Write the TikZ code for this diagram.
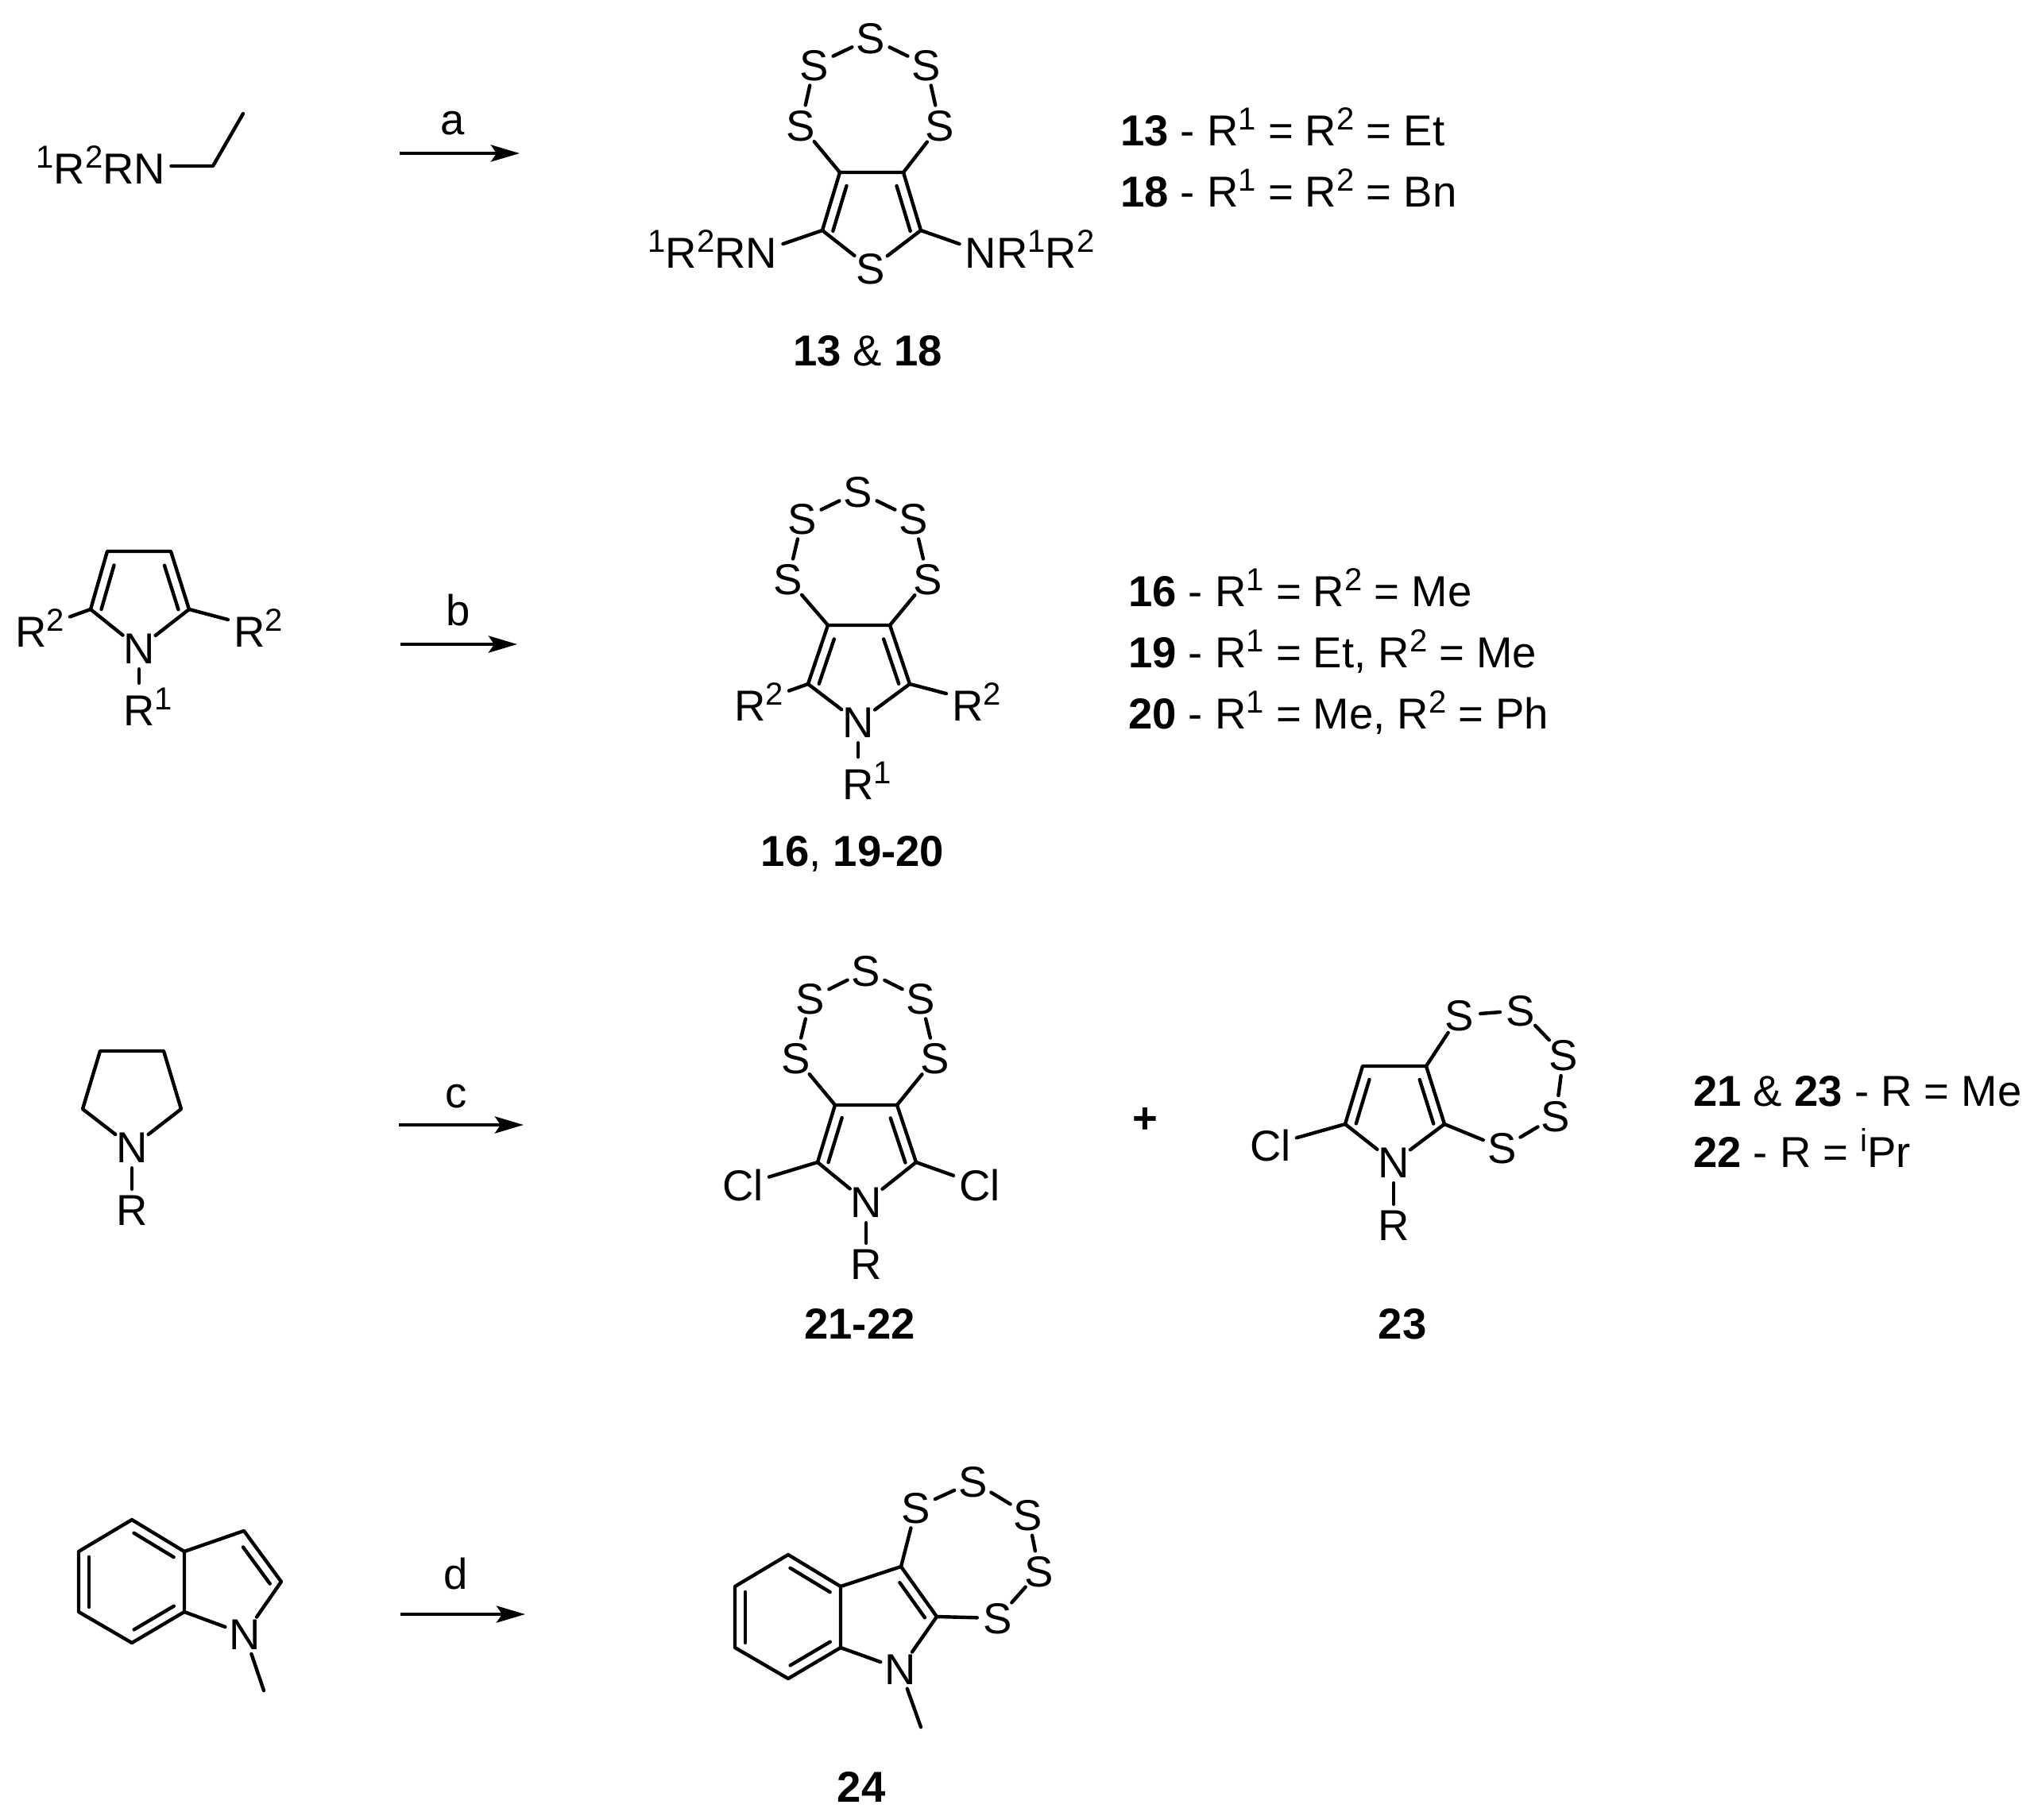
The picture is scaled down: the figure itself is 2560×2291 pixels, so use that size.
\documentclass[tikz,border=0pt]{standalone}
\usepackage{fontspec}
\setmainfont{Liberation Sans}
\usetikzlibrary{calc,arrows.meta}
\newcommand{\sps}[1]{\raisebox{20pt}{\fontsize{40}{40}\selectfont #1}}
\newcommand{\atm}[1]{\makebox[0pt]{\raisebox{-19.5pt}[0pt][0pt]{#1}}}
\newcommand{\Atom}[3]{\node[atom] (#1) at (#2) {\atm{#3}};}
\newcommand{\dbl}[5]{\draw[bond] ($(#1)!#3!(#2)!#5pt!90:(#2)$) -- ($(#2)!#4!(#1)!#5pt!-90:(#1)$);}
\tikzset{
  every node/.style={font=\fontsize{54.5}{60}\selectfont},
  atom/.style={circle,inner sep=0pt,minimum size=52pt},
  atomsup/.style={circle,inner sep=0pt,minimum size=68pt},
  grp/.style={inner xsep=7pt,inner ysep=0pt,anchor=base},
  txt/.style={inner sep=0pt,anchor=base west},
  lab/.style={inner sep=0pt,anchor=base},
  bond/.style={line width=4.4pt,line cap=round,line join=round},
  rxn/.style={line width=4.6pt,-{Stealth[length=36pt,width=21pt,inset=7pt]}}
}
\begin{document}
\begin{tikzpicture}[x=1pt,y=-1pt]
\useasboundingbox (0,0) rectangle (2560,2291);

% ---------- Row 1
\node[grp] (ra) at (127,231) {\sps{1}R\sps{2}RN};
\coordinate (ea1) at (268,209);
\coordinate (ea2) at (306,143);
\draw[bond] (ra.east |- ea1) -- (ea1) -- (ea2);
\coordinate (a1s) at (503,193); \coordinate (a1e) at (654,193);
\draw[rxn] (a1s) -- (a1e);
\node[lab] (la) at (570,169) {a};

\Atom{t1}{1096,48}{S}
\Atom{t2}{1025,82}{S}
\Atom{t3}{1166,82}{S}
\Atom{t4}{1008,158}{S}
\Atom{t5}{1183,158}{S}
\Atom{t6}{1096,338}{S}
\coordinate (tc3) at (1057,217);
\coordinate (tc4) at (1137,217);
\coordinate (tc2) at (1035,290);
\coordinate (tc5) at (1159,290);
\draw[bond] (t2) -- (t1); \draw[bond] (t1) -- (t3);
\draw[bond] (t4) -- (t2); \draw[bond] (t5) -- (t3);
\draw[bond] (t4) -- (tc3); \draw[bond] (t5) -- (tc4);
\draw[bond] (tc2) -- (tc3) -- (tc4) -- (tc5);
\draw[bond] (tc2) -- (t6); \draw[bond] (tc5) -- (t6);
\dbl{tc3}{tc2}{.18}{.04}{13}
\dbl{tc4}{tc5}{.18}{.04}{-13}
\node[grp] (tl) at (897,337) {\sps{1}R\sps{2}RN};
\node[grp] (tr) at (1296,337) {NR\sps{1}R\sps{2}};
\draw[bond] (tc2) -- ([yshift=6pt]tl.east);
\draw[bond] (tc5) -- ([yshift=6pt]tr.west);
\node[lab] (l13) at (1092,460) {\textbf{13} \& \textbf{18}};
\node[txt] (k13) at (1410,183) {\textbf{13} - R\sps{1} = R\sps{2} = Et};
\node[txt] (k18) at (1410,260) {\textbf{18} - R\sps{1} = R\sps{2} = Bn};

% ---------- Row 2
\coordinate (pc3) at (135,694);
\coordinate (pc4) at (215,694);
\coordinate (pc2) at (114,767);
\coordinate (pc5) at (238,767);
\Atom{pn}{175,816}{N}
\node[atomsup] (pr) at (175,894) {\atm{R\rlap{\sps{1}}}};
\node[grp] (prl) at (50,814) {R\sps{2}};
\node[grp] (prr) at (325,814) {R\sps{2}};
\draw[bond] (pn) -- (pc2) -- (pc3) -- (pc4) -- (pc5) -- (pn);
\draw[bond] (pn) -- (pr);
\draw[bond] (pc2) -- (prl);
\draw[bond] (pc5) -- (prr);
\dbl{pc3}{pc2}{.19}{.05}{13}
\dbl{pc4}{pc5}{.19}{.05}{-13}
\coordinate (a2s) at (504,811); \coordinate (a2e) at (651,811);
\draw[rxn] (a2s) -- (a2e);
\node[lab] (lb) at (577,787) {b};

\Atom{q1}{1080,619}{S}
\Atom{q2}{1010,653}{S}
\Atom{q3}{1150,653}{S}
\Atom{q4}{992,729}{S}
\Atom{q5}{1168,729}{S}
\coordinate (qc3) at (1042,787);
\coordinate (qc4) at (1120,787);
\coordinate (qc2) at (1017,861);
\coordinate (qc5) at (1145,861);
\Atom{qn}{1080,909}{N}
\node[atomsup] (qr) at (1080,987) {\atm{R\rlap{\sps{1}}}};
\node[grp] (qrl) at (955,907) {R\sps{2}};
\node[grp] (qrr) at (1229,907) {R\sps{2}};
\draw[bond] (q2) -- (q1); \draw[bond] (q1) -- (q3);
\draw[bond] (q4) -- (q2); \draw[bond] (q5) -- (q3);
\draw[bond] (q4) -- (qc3); \draw[bond] (q5) -- (qc4);
\draw[bond] (qn) -- (qc2) -- (qc3) -- (qc4) -- (qc5) -- (qn);
\draw[bond] (qn) -- (qr);
\draw[bond] (qc2) -- (qrl);
\draw[bond] (qc5) -- (qrr);
\dbl{qc3}{qc2}{.18}{.06}{13}
\dbl{qc4}{qc5}{.18}{.06}{-13}
\node[lab] (l16) at (1073,1090) {\textbf{16}, \textbf{19-20}};
\node[txt] (k16) at (1420,763) {\textbf{16} - R\sps{1} = R\sps{2} = Me};
\node[txt] (k19) at (1420,840) {\textbf{19} - R\sps{1} = Et, R\sps{2} = Me};
\node[txt] (k20) at (1420,917) {\textbf{20} - R\sps{1} = Me, R\sps{2} = Ph};

% ---------- Row 3
\coordinate (rc3) at (126,1323);
\coordinate (rc4) at (206,1323);
\coordinate (rc2) at (104,1396);
\coordinate (rc5) at (228,1396);
\Atom{rn}{166,1444}{N}
\Atom{rr}{166,1523}{R}
\draw[bond] (rn) -- (rc2) -- (rc3) -- (rc4) -- (rc5) -- (rn);
\draw[bond] (rn) -- (rr);
\coordinate (a3s) at (502,1416); \coordinate (a3e) at (659,1416);
\draw[rxn] (a3s) -- (a3e);
\node[lab] (lc) at (574,1394) {c};

\Atom{u1}{1090,1222}{S}
\Atom{u2}{1020,1257}{S}
\Atom{u3}{1159,1257}{S}
\Atom{u4}{1002,1332}{S}
\Atom{u5}{1177,1332}{S}
\coordinate (uc3) at (1051,1391);
\coordinate (uc4) at (1129,1391);
\coordinate (uc2) at (1029,1463);
\coordinate (uc5) at (1153,1463);
\Atom{un}{1090,1513}{N}
\Atom{ur}{1090,1591}{R}
\node[grp] (ucl) at (935,1511) {Cl};
\node[grp] (ucr) at (1233,1511) {Cl};
\draw[bond] (u2) -- (u1); \draw[bond] (u1) -- (u3);
\draw[bond] (u4) -- (u2); \draw[bond] (u5) -- (u3);
\draw[bond] (u4) -- (uc3); \draw[bond] (u5) -- (uc4);
\draw[bond] (un) -- (uc2) -- (uc3) -- (uc4) -- (uc5) -- (un);
\draw[bond] (un) -- (ur);
\draw[bond] (uc2) -- (ucl);
\draw[bond] (uc5) -- (ucr);
\dbl{uc3}{uc2}{.17}{.05}{13}
\dbl{uc4}{uc5}{.17}{.05}{-13}
\node[lab] (l21) at (1082,1685) {\textbf{21-22}};
\node[lab] (plus) at (1441,1426) {\textbf{+}};

\Atom{v1}{1837,1278}{S}
\Atom{v2}{1914,1272}{S}
\Atom{v3}{1968,1328}{S}
\Atom{v4}{1958,1405}{S}
\Atom{v5}{1891,1445}{S}
\coordinate (vc3) at (1715,1342);
\coordinate (vc4) at (1795,1342);
\coordinate (vc2) at (1693,1415);
\coordinate (vc5) at (1818,1415);
\Atom{vn}{1754,1463}{N}
\Atom{vr}{1754,1542}{R}
\node[grp] (vcl) at (1599,1461) {Cl};
\draw[bond] (v1) -- (v2); \draw[bond] (v2) -- (v3);
\draw[bond] (v3) -- (v4); \draw[bond] (v4) -- (v5);
\draw[bond] (v1) -- (vc4); \draw[bond] (v5) -- (vc5);
\draw[bond] (vn) -- (vc2) -- (vc3) -- (vc4) -- (vc5) -- (vn);
\draw[bond] (vn) -- (vr);
\draw[bond] (vc2) -- (vcl);
\dbl{vc3}{vc2}{.18}{.06}{13}
\dbl{vc4}{vc5}{.18}{.06}{-13}
\node[lab] (l23) at (1765,1685) {\textbf{23}};
\node[txt] (k21) at (2131,1392) {\textbf{21} \& \textbf{23} - R = Me};
\node[txt] (k22) at (2131,1469) {\textbf{22} - R = \sps{i}Pr};

% ---------- Row 4
\coordinate (w1) at (166,1913);
\coordinate (w2) at (232,1953);
\coordinate (w3) at (232,2029);
\coordinate (w4) at (166,2068);
\coordinate (w5) at (99,2029);
\coordinate (w6) at (99,1953);
\coordinate (w7) at (307,1927);
\coordinate (w8) at (354,1991);
\Atom{wn}{308,2057}{N}
\coordinate (wm) at (332,2128);
\draw[bond] (w1) -- (w2) -- (w3) -- (w4) -- (w5) -- (w6) -- (w1);
\draw[bond] (w2) -- (w7) -- (w8) -- (wn);
\draw[bond] (w3) -- (wn);
\draw[bond] (wn) -- (wm);
\dbl{w1}{w2}{.14}{.1}{-13}
\dbl{w3}{w4}{.1}{.14}{-13}
\dbl{w6}{w5}{.09}{.08}{13}
\dbl{w7}{w8}{.2}{.08}{-13}
\coordinate (a4s) at (504,2032); \coordinate (a4e) at (661,2032);
\draw[rxn] (a4s) -- (a4e);
\node[lab] (ld) at (574,2000) {d};

\coordinate (x1) at (992,1957);
\coordinate (x2) at (1058,1997);
\coordinate (x3) at (1058,2074);
\coordinate (x4) at (992,2113);
\coordinate (x5) at (925,2074);
\coordinate (x6) at (925,1997);
\coordinate (x7) at (1134,1972);
\coordinate (x8) at (1179,2035);
\Atom{xn}{1133,2101}{N}
\coordinate (xm) at (1159,2174);
\Atom{y1}{1153,1898}{S}
\Atom{y2}{1225,1865}{S}
\Atom{y3}{1294,1907}{S}
\Atom{y4}{1308,1978}{S}
\Atom{y5}{1256,2037}{S}
\draw[bond] (x1) -- (x2) -- (x3) -- (x4) -- (x5) -- (x6) -- (x1);
\draw[bond] (x2) -- (x7) -- (x8) -- (xn);
\draw[bond] (x3) -- (xn);
\draw[bond] (xn) -- (xm);
\draw[bond] (x7) -- (y1); \draw[bond] (x8) -- (y5);
\draw[bond] (y1) -- (y2); \draw[bond] (y2) -- (y3);
\draw[bond] (y3) -- (y4); \draw[bond] (y4) -- (y5);
\dbl{x1}{x2}{.14}{.1}{-13}
\dbl{x3}{x4}{.1}{.14}{-13}
\dbl{x6}{x5}{.09}{.08}{13}
\dbl{x7}{x8}{.2}{.1}{-13}
\node[lab] (l24) at (1084,2268) {\textbf{24}};
\end{tikzpicture}
\end{document}
